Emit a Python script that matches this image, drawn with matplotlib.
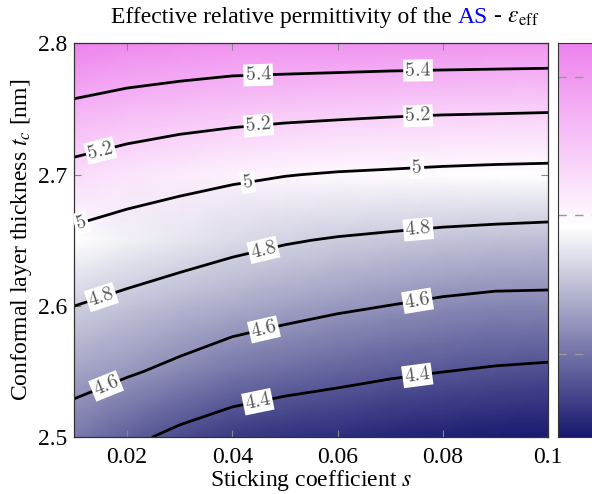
import numpy as np
import matplotlib
matplotlib.use("Agg")
import matplotlib.pyplot as plt
from matplotlib.colors import LinearSegmentedColormap

# sticking coefficient s (columns) and conformal layer thickness t_c (rows)
s_vals = [0.01, 0.02, 0.03, 0.04, 0.05, 0.06, 0.07, 0.08, 0.09, 0.10]
tc_vals = [2.50, 2.55, 2.60, 2.65, 2.70, 2.75, 2.80]

# effective relative permittivity
eps_250 = [4.52, 4.434, 4.362, 4.308, 4.281, 4.267, 4.242, 4.226, 4.210, 4.199]
eps_255 = [4.656, 4.616, 4.564, 4.507, 4.471, 4.444, 4.420, 4.401, 4.385, 4.374]
eps_260 = [4.800, 4.759, 4.720, 4.682, 4.651, 4.621, 4.598, 4.574, 4.557, 4.555]
eps_265 = [4.956, 4.914, 4.877, 4.841, 4.811, 4.789, 4.773, 4.758, 4.748, 4.740]
eps_270 = [5.142, 5.095, 5.060, 5.029, 5.005, 4.989, 4.979, 4.968, 4.960, 4.955]
eps_275 = [5.359, 5.319, 5.288, 5.268, 5.253, 5.242, 5.231, 5.223, 5.219, 5.214]
eps_280 = [5.62, 5.573, 5.553, 5.53, 5.53, 5.527, 5.523, 5.521, 5.517, 5.514]

levels = [4.4, 4.6, 4.8, 5.0, 5.2, 5.4]
xticks = [0.02, 0.04, 0.06, 0.08, 0.1]
xticklabels = ["0.02", "0.04", "0.06", "0.08", "0.1"]
yticks = [2.5, 2.6, 2.7, 2.8]
cbar_ticks = [4.5, 5.0, 5.5]

# where the labels sit on the lines (s, t_c)
label_pos = [(0.0449, 2.7774), (0.0753, 2.7804),
             (0.0148, 2.7203), (0.0449, 2.7408), (0.0753, 2.7462),
             (0.0110, 2.6670), (0.0428, 2.6974), (0.0751, 2.7081),
             (0.0148, 2.6106), (0.0456, 2.6479), (0.0753, 2.6609),
             (0.0154, 2.5451), (0.0456, 2.5893), (0.0751, 2.6068),
             (0.0449, 2.5262), (0.0751, 2.5490)]

Z = np.array([eps_250, eps_255, eps_260, eps_265, eps_270, eps_275, eps_280])
S, T = np.meshgrid(s_vals, tc_vals)

plt.rcParams['font.family'] = ['Liberation Serif', 'DejaVu Serif']
plt.rcParams['mathtext.fontset'] = 'stix'
plt.rcParams['axes.formatter.use_mathtext'] = False

cmap = LinearSegmentedColormap.from_list(
    'vwn', [(0.0, '#191970'), (0.534, '#ffffff'), (1.0, '#ee82ee')])
vmin, vmax = Z.min(), Z.max()

fig = plt.figure(figsize=(5.92, 4.94), dpi=100)
ax = fig.add_axes([0.1258, 0.1148, 0.7998, 0.7975])
ax.pcolormesh(S, T, Z, shading='gouraud', cmap=cmap, vmin=vmin, vmax=vmax)
cs = ax.contour(S, T, Z, levels=levels, colors='black', linewidths=2.0)
lbls = ax.clabel(cs, levels, inline=False, fontsize=14.5, colors='#555555',
                 manual=label_pos, fmt=lambda v: '%g' % v)
for t in lbls:
    t.set_bbox(dict(facecolor='white', edgecolor='none', pad=1.5))
    t.set_zorder(5)
    t.set_family(['cmr10', 'DejaVu Serif'])

ax.set_xlim(0.01, 0.1)
ax.set_ylim(2.5, 2.8)
ax.set_xticks(xticks)
ax.set_xticklabels(xticklabels)
ax.set_yticks(yticks)
ax.tick_params(direction='in', length=5, width=0.8, color='#888888',
               top=True, right=True, labelsize=17)
ax.tick_params(axis='x', pad=7)
ax.tick_params(axis='y', pad=5)
for sp in ax.spines.values():
    sp.set_color('#333333')
    sp.set_linewidth(0.9)
ax.set_xlabel('Sticking coefficient $s$', fontsize=17, labelpad=0)
ax.set_ylabel('Conformal layer thickness $t_c$ [nm]', fontsize=17, labelpad=3)

# title in three pieces so that "AS" can be blue
renderer = fig.canvas.get_renderer()
x0 = 0.188
for txt, col in [('Effective relative permittivity of the ', 'black'),
                 ('AS', '#0000ff'),
                 (' - $\\varepsilon_{\\mathrm{eff}}$', 'black')]:
    t = fig.text(x0, 0.964, txt, fontsize=17, color=col, ha='left', va='center')
    bb = t.get_window_extent(renderer=renderer)
    x0 = fig.transFigure.inverted().transform((bb.x1, bb.y1))[0]

cax = fig.add_axes([0.9426, 0.1148, 0.09, 0.7975])
grad = np.linspace(vmin, vmax, 256).reshape(-1, 1)
cax.imshow(grad, aspect='auto', origin='lower', cmap=cmap,
           extent=[0, 1, vmin, vmax], vmin=vmin, vmax=vmax)
for v in cbar_ticks:
    cax.axhline(v, color='#999999', lw=1.0, ls=(0, (6, 6)))
cax.set_xticks([])
cax.set_yticks([])
for sp in cax.spines.values():
    sp.set_color('#333333')

fig.savefig('out.png', dpi=100)
